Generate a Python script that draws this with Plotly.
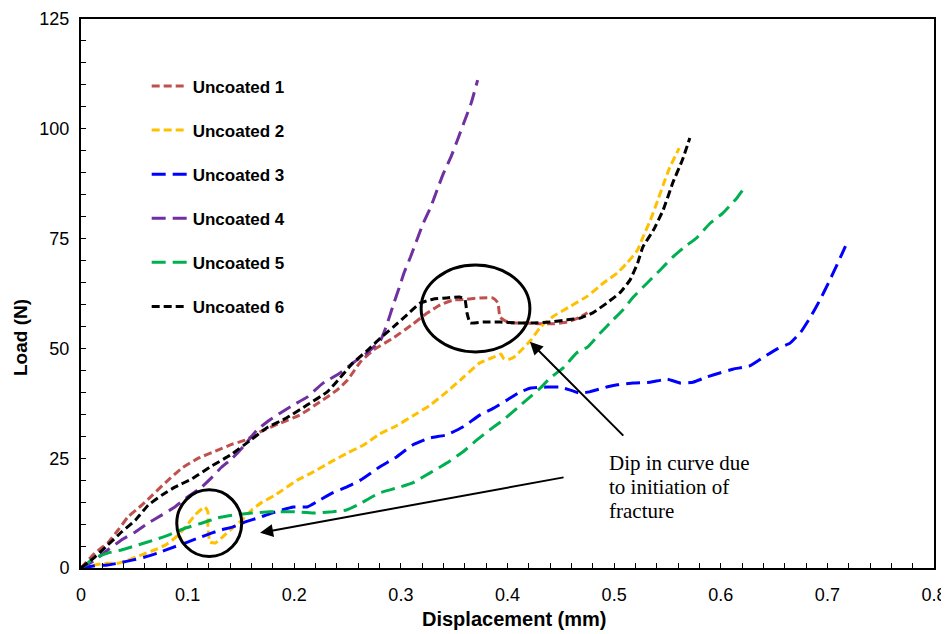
import plotly.graph_objects as go

# ---------------- data ----------------
u1_x = [0, 0.013, 0.025, 0.035, 0.044, 0.057, 0.067, 0.079, 0.095, 0.110, 0.126, 0.142, 0.154, 0.168,
        0.187, 0.205, 0.224, 0.240, 0.250, 0.262, 0.274, 0.293, 0.311, 0.325, 0.337, 0.349, 0.362,
        0.374, 0.386, 0.391, 0.393, 0.402, 0.415, 0.431, 0.443, 0.456, 0.468, 0.475]
u1_y = [0, 3.4, 5.7, 8.7, 11.6, 14.3, 16.6, 19.4, 22.8, 25.0, 26.6, 28.2, 29.1, 31.0,
        33.0, 34.8, 37.8, 40.5, 42.8, 46.9, 49.6, 52.4, 55.5, 58.1, 59.9, 61.0, 61.2,
        61.5, 61.5, 60.4, 57.1, 55.8, 55.8, 55.6, 55.6, 56.0, 57.1, 58.1]

u2_x = [0, 0.013, 0.025, 0.035, 0.044, 0.057, 0.069, 0.079, 0.088, 0.098, 0.107, 0.116, 0.119, 0.119,
        0.121, 0.126, 0.133, 0.142, 0.151, 0.160, 0.170, 0.182, 0.203, 0.218, 0.234, 0.250, 0.265,
        0.280, 0.296, 0.311, 0.327, 0.343, 0.359, 0.374, 0.387, 0.394, 0.396, 0.400, 0.406, 0.415,
        0.422, 0.431, 0.443, 0.459, 0.475, 0.490, 0.503, 0.512, 0.522, 0.527, 0.534, 0.540, 0.546,
        0.552, 0.561]
u2_y = [0, 0.7, 1.1, 1.1, 1.8, 3.0, 4.1, 5.2, 6.8, 9.3, 12.1, 13.9, 12.8, 9.3,
        5.9, 5.7, 7.1, 9.1, 10.9, 13.2, 15.0, 16.6, 20.0, 21.9, 24.1, 26.2, 28.0,
        30.5, 32.4, 34.6, 37.0, 40.1, 43.5, 46.7, 48.0, 48.7, 47.8, 47.4, 48.0, 50.1,
        51.9, 54.9, 57.3, 59.6, 61.9, 64.9, 67.2, 69.4, 72.4, 75.3, 79.2, 83.1, 87.2,
        91.1, 95.6]

u3_x = [0, 0.013, 0.025, 0.035, 0.048, 0.060, 0.072, 0.085, 0.100, 0.113, 0.123, 0.132, 0.142, 0.154,
        0.166, 0.179, 0.199, 0.212, 0.224, 0.236, 0.249, 0.262, 0.280, 0.296, 0.311, 0.327, 0.343,
        0.358, 0.374, 0.387, 0.400, 0.412, 0.422, 0.437, 0.449, 0.459, 0.468, 0.477, 0.493, 0.503,
        0.518, 0.534, 0.550, 0.562, 0.574, 0.587, 0.599, 0.612, 0.627, 0.640, 0.653, 0.665, 0.675,
        0.684, 0.693, 0.701, 0.709, 0.717]
u3_y = [0, 0.5, 0.7, 1.1, 1.8, 2.5, 3.4, 4.6, 5.9, 7.1, 8.0, 8.7, 9.3, 10.5,
        11.4, 12.5, 13.9, 13.9, 15.5, 17.1, 18.4, 20.0, 23.0, 25.3, 28.0, 29.6, 30.3,
        32.1, 34.8, 36.4, 38.3, 40.1, 41.0, 41.2, 41.2, 40.5, 39.8, 40.1, 41.2, 41.7,
        42.1, 42.3, 43.0, 42.1, 42.3, 43.5, 44.4, 45.3, 46.0, 48.0, 49.9, 51.2, 53.7,
        57.1, 61.0, 64.9, 69.0, 73.3]

u4_x = [0, 0.013, 0.025, 0.038, 0.051, 0.063, 0.076, 0.088, 0.100, 0.113, 0.123, 0.132, 0.142, 0.152,
        0.165, 0.177, 0.187, 0.199, 0.212, 0.227, 0.243, 0.255, 0.268, 0.281, 0.287, 0.293, 0.298,
        0.303, 0.309, 0.315, 0.321, 0.328, 0.334, 0.340, 0.347, 0.353, 0.359, 0.366, 0.372]
u4_y = [0, 1.8, 4.1, 6.4, 8.2, 10.2, 12.1, 13.9, 16.2, 18.4, 20.7, 23.0, 25.0, 27.6,
        31.4, 33.7, 35.3, 37.1, 38.9, 42.1, 44.4, 46.7, 48.9, 51.9, 55.5, 60.0, 63.5,
        67.2, 70.8, 74.7, 78.5, 82.2, 86.1, 89.9, 93.6, 97.4, 101.3, 105.9, 111.1]

u5_x = [0, 0.013, 0.025, 0.038, 0.053, 0.069, 0.082, 0.098, 0.113, 0.128, 0.144, 0.160, 0.177, 0.199,
        0.218, 0.236, 0.249, 0.259, 0.280, 0.296, 0.311, 0.327, 0.343, 0.358, 0.371, 0.383, 0.396,
        0.409, 0.418, 0.431, 0.440, 0.452, 0.465, 0.475, 0.487, 0.499, 0.508, 0.518, 0.531, 0.543,
        0.555, 0.565, 0.578, 0.590, 0.602, 0.615, 0.624]
u5_y = [0, 2.3, 3.4, 4.1, 5.2, 6.4, 7.5, 9.1, 10.2, 11.4, 12.1, 12.5, 12.8, 12.8,
        12.5, 12.8, 13.2, 14.3, 17.1, 18.2, 19.4, 21.6, 23.9, 26.4, 29.1, 31.4, 33.7,
        36.4, 38.3, 41.0, 43.3, 45.5, 49.0, 50.3, 53.5, 56.5, 58.7, 61.7, 64.9, 67.8,
        70.8, 72.9, 75.3, 78.5, 80.8, 84.2, 87.2]

u6_x = [0, 0.013, 0.025, 0.038, 0.051, 0.063, 0.076, 0.088, 0.104, 0.121, 0.140, 0.159, 0.174, 0.193,
        0.212, 0.231, 0.243, 0.255, 0.269, 0.281, 0.293, 0.306, 0.318, 0.330, 0.343, 0.355, 0.360,
        0.362, 0.365, 0.377, 0.393, 0.409, 0.424, 0.440, 0.456, 0.468, 0.480, 0.493, 0.506, 0.515,
        0.522, 0.527, 0.537, 0.546, 0.555, 0.564, 0.571]
u6_y = [0, 2.5, 5.2, 8.2, 10.9, 14.3, 16.6, 18.4, 20.3, 23.0, 25.7, 29.1, 31.9, 34.2,
        37.1, 40.1, 43.3, 46.7, 49.6, 52.4, 54.9, 57.7, 60.3, 61.2, 61.5, 61.7, 61.2,
        58.1, 55.8, 56.0, 56.0, 55.8, 55.8, 56.0, 56.5, 56.9, 58.1, 60.3, 62.8, 65.6,
        69.4, 73.1, 77.0, 81.5, 87.7, 92.9, 97.9]

series_names = ["Uncoated 1", "Uncoated 2", "Uncoated 3", "Uncoated 4", "Uncoated 5", "Uncoated 6"]
x_ticks = [0, 0.1, 0.2, 0.3, 0.4, 0.5, 0.6, 0.7, 0.8]
y_ticks = [0, 25, 50, 75, 100, 125]
note_lines = ["Dip in curve due", "to initiation of", "fracture"]

# ---------------- styles ----------------
colors = ["#C0504D", "#FFC000", "#0000FF", "#7030A0", "#00B050", "#000000"]
dashes = ["8px,4px", "8px,4px", "14px,7px", "14px,7px", "14px,7px", "8px,4px"]
xs = [u1_x, u2_x, u3_x, u4_x, u5_x, u6_x]
ys = [u1_y, u2_y, u3_y, u4_y, u5_y, u6_y]

fig = go.Figure()
for i in range(6):
    fig.add_trace(go.Scatter(
        x=xs[i], y=ys[i], mode="lines", name=series_names[i],
        legendgroup=f"g{i}",
        line=dict(color=colors[i], width=3, dash=dashes[i], shape="spline", smoothing=0.4),
    ))

# ellipses
fig.add_shape(type="circle", xref="x", yref="y", x0=0.319, x1=0.421, y0=49.2, y1=69.0,
              line=dict(color="black", width=3))
fig.add_shape(type="circle", xref="x", yref="y", x0=0.0898, x1=0.1507, y0=2.6, y1=17.8,
              line=dict(color="black", width=3))

# arrows
fig.add_annotation(x=0.421, y=51.5, ax=0.510, ay=29.8, xref="x", yref="y", axref="x", ayref="y",
                   text="", showarrow=True, arrowhead=2, arrowsize=1.3, arrowwidth=2, arrowcolor="black")
fig.add_annotation(x=0.168, y=8.0, ax=0.454, ay=20.7, xref="x", yref="y", axref="x", ayref="y",
                   text="", showarrow=True, arrowhead=2, arrowsize=1.3, arrowwidth=2, arrowcolor="black")

# text (one annotation per line to control line spacing)
for k, line in enumerate(note_lines):
    fig.add_annotation(x=0.4934, y=(568 - (463 + 24 * k)) / 4.392, xref="x", yref="y",
                       xanchor="left", yanchor="middle", align="left", text=line, showarrow=False,
                       font=dict(family="Liberation Serif", size=21, color="black"))

# axis titles
fig.add_annotation(x=(514 - 81) / 853, y=-51 / 549, xref="paper", yref="paper", xanchor="center",
                   yanchor="middle", text="<b>Displacement (mm)</b>", showarrow=False,
                   font=dict(family="Liberation Sans", size=20, color="black"))
fig.add_annotation(x=-(81 - 20) / 853, y=(568 - 338) / 549, xref="paper", yref="paper", xanchor="center",
                   yanchor="middle", text="<b>Load (N)</b>", showarrow=False, textangle=-90,
                   font=dict(family="Liberation Sans", size=19, color="black"))

axis_common = dict(showline=True, linecolor="black", linewidth=2, mirror=True, showgrid=False,
                   zeroline=False, ticks="inside", ticklen=5, tickcolor="black", tickwidth=1,
                   automargin=False,
                   tickfont=dict(family="Liberation Sans", size=18, color="black"))

fig.update_xaxes(range=[0, 0.8], tickvals=x_ticks, ticktext=[str(v) for v in x_ticks],
                 minor=dict(ticks="inside", ticklen=5, dtick=0.02, tickcolor="black"),
                 ticklabelstandoff=9, **axis_common)
fig.update_yaxes(range=[0, 125], tickvals=y_ticks,
                 minor=dict(ticks="inside", ticklen=5, dtick=5, tickcolor="black"),
                 ticklabelstandoff=6, **axis_common)

# the page body adds an 8px offset, so the figure is 8px smaller and margins compensate
fig.update_layout(
    width=941, height=626,
    margin=dict(l=73, r=15, t=11, b=66, autoexpand=False),
    plot_bgcolor="white", paper_bgcolor="white",
    showlegend=True,
    legend=dict(x=0.077, y=0.91, xanchor="left", yanchor="top", bgcolor="rgba(0,0,0,0)",
                itemwidth=36, tracegroupgap=19,
                font=dict(family="Liberation Sans", size=17, color="black", weight="bold")),
)

fig.write_html("out.html")
